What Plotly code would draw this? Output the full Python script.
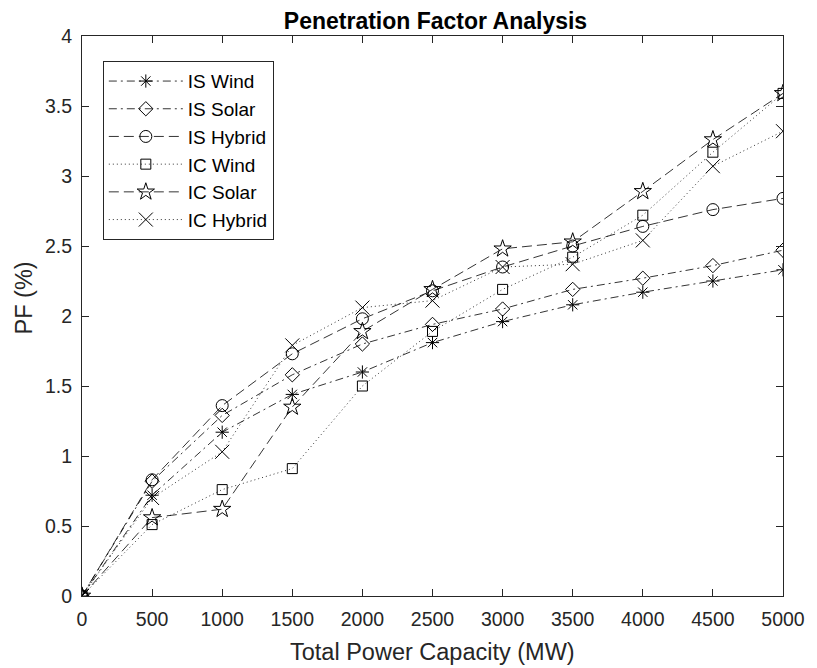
import plotly.graph_objects as go

capacity = [0, 500, 1000, 1500, 2000, 2500, 3000, 3500, 4000, 4500, 5000]

is_wind   = [0, 0.72, 1.17, 1.44, 1.60, 1.81, 1.96, 2.08, 2.17, 2.25, 2.33]
is_solar  = [0, 0.82, 1.29, 1.58, 1.80, 1.94, 2.05, 2.19, 2.27, 2.36, 2.47]
is_hybrid = [0, 0.83, 1.36, 1.73, 1.98, 2.18, 2.35, 2.50, 2.64, 2.76, 2.84]
ic_wind   = [0, 0.51, 0.76, 0.91, 1.50, 1.89, 2.19, 2.42, 2.72, 3.17, 3.59]
ic_solar  = [0, 0.56, 0.62, 1.35, 1.89, 2.19, 2.48, 2.53, 2.89, 3.26, 3.59]
ic_hybrid = [0, 0.70, 1.03, 1.79, 2.06, 2.11, 2.35, 2.37, 2.54, 3.07, 3.32]

x_ticks = [0, 500, 1000, 1500, 2000, 2500, 3000, 3500, 4000, 4500, 5000]
y_ticks = [0, 0.5, 1, 1.5, 2, 2.5, 3, 3.5, 4]
y_tick_text = ["0", "0.5", "1", "1.5", "2", "2.5", "3", "3.5", "4"]

series = [
    ("IS Wind", is_wind, "8px,4px,2px,4px", "asterisk-open", 11),
    ("IS Solar", is_solar, "8px,4px,2px,4px", "diamond-open", 11),
    ("IS Hybrid", is_hybrid, "10px,5px", "circle-open", 12),
    ("IC Wind", ic_wind, "1px,3px", "square-open", 10),
    ("IC Solar", ic_solar, "10px,5px", "star-open", 13),
    ("IC Hybrid", ic_hybrid, "1px,3px", "x-thin-open", 14),
]

FONT = "Liberation Sans, Arial, Helvetica, sans-serif"
AX = "#262626"

# the page body adds an 8px offset; figure is sized to fit inside the window
W, H = 809, 660

fig = go.Figure()
for name, vals, dash, sym, size in series:
    fig.add_trace(go.Scatter(
        x=capacity, y=vals, name=name, mode="lines+markers",
        line=dict(color="black", width=0.8, dash=dash),
        marker=dict(symbol=sym, size=size, color="black",
                    line=dict(color="black", width=1)),
    ))

fig.update_layout(
    width=W, height=H,
    margin=dict(l=74, r=28, t=28, b=72),
    paper_bgcolor="white", plot_bgcolor="white",
    font=dict(family=FONT, color=AX, size=20),
    title=dict(text="<b>Penetration Factor Analysis</b>", x=(74 + 353.5) / W,
               xanchor="center", y=1 - 13 / H, yanchor="middle",
               font=dict(family=FONT, size=23, color="black")),
    legend=dict(x=0.0297, y=0.955, xanchor="left", yanchor="top",
                bgcolor="white", bordercolor=AX, borderwidth=1,
                font=dict(family=FONT, size=19, color="black"),
                itemwidth=74, tracegroupgap=0),
    showlegend=True,
)

fig.update_xaxes(
    range=[0, 5000], tickvals=x_ticks, ticks="inside", ticklen=7, tickcolor=AX,
    showline=True, linecolor=AX, linewidth=1, mirror="ticks", showgrid=False,
    zeroline=False, tickfont=dict(size=19.5, color=AX), ticklabelstandoff=6,
)
fig.update_yaxes(
    range=[0, 4], tickvals=y_ticks, ticktext=y_tick_text, ticks="inside", ticklen=7,
    tickcolor=AX, showline=True, linecolor=AX, linewidth=1, mirror="ticks",
    showgrid=False, zeroline=False, tickfont=dict(size=19.5, color=AX),
    ticklabelstandoff=5,
)

fig.add_annotation(text="Total Power Capacity (MW)", xref="paper", yref="paper",
                   x=0.5, y=-(652 - 596) / 560, xanchor="center", yanchor="middle",
                   showarrow=False, font=dict(family=FONT, size=23.5, color=AX))
fig.add_annotation(text="PF (%)", xref="paper", yref="paper",
                   x=-(82 - 24) / 707, y=(596 - 298 - 36) / 560 if False else (596 - 298) / 560,
                   xanchor="center", yanchor="middle",
                   textangle=-90, showarrow=False,
                   font=dict(family=FONT, size=23.5, color=AX))

fig.write_html("out.html")
